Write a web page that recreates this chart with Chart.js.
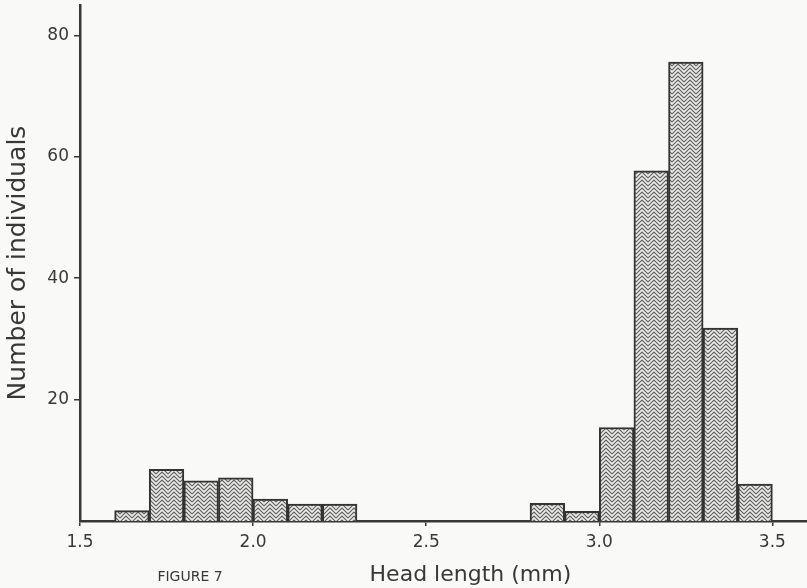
<!DOCTYPE html>
<html>
<head>
<meta charset="utf-8">
<script src="https://cdn.jsdelivr.net/npm/chart.js@4.4.1/dist/chart.umd.min.js"></script>
<style>
  html, body { margin: 0; padding: 0; background: #f9f9f7; }
  #wrap { width: 807px; height: 588px; position: relative; }
</style>
</head>
<body>
<div id="wrap"><canvas id="c" width="807" height="588"></canvas></div>
<script>
// ---- data ----
const binStarts = [1.6, 1.7, 1.8, 1.9, 2.0, 2.1, 2.2, 2.8, 2.9, 3.0, 3.1, 3.2, 3.3, 3.4];
const binWidth = 0.1;
const counts = [1.7, 8.5, 6.6, 7.1, 3.6, 2.8, 2.8, 2.9, 1.6, 15.4, 57.7, 75.6, 31.8, 6.1];
const xTickValues = [1.5, 2.0, 2.5, 3.0, 3.5];
const yTickValues = [20, 40, 60, 80];
const xTitle = 'Head length (mm)';
const yTitle = 'Number of individuals';
const figureLabel = 'FIGURE 7';

const INK = '#383838';
const FONT = "'DejaVu Sans', sans-serif";

function makeChevronPattern() {
  const c = document.createElement('canvas');
  const w = 12, h = 4;
  c.width = w; c.height = h;
  const g = c.getContext('2d');
  g.fillStyle = '#ececea';
  g.fillRect(0, 0, w, h);
  g.strokeStyle = '#5e5e5e';
  g.lineWidth = 1.1;
  for (let k = -4; k <= 4; k++) {
    g.beginPath();
    g.moveTo(0, 6 + k * h);
    g.lineTo(w / 2, 0 + k * h);
    g.lineTo(w, 6 + k * h);
    g.stroke();
  }
  return g.createPattern(c, 'repeat');
}

const points = binStarts.map((s, i) => ({ x: s + binWidth / 2, y: counts[i] }));

const bgPlugin = {
  id: 'bg',
  beforeDraw(chart) {
    const ctx = chart.ctx;
    ctx.save();
    ctx.fillStyle = '#f9f9f7';
    ctx.fillRect(0, 0, chart.width, chart.height);
    ctx.restore();
  }
};

const textPlugin = {
  id: 'texts',
  afterDraw(chart) {
    const ctx = chart.ctx;
    const area = chart.chartArea;
    ctx.save();
    ctx.fillStyle = INK;
    ctx.textBaseline = 'middle';
    ctx.textAlign = 'center';
    ctx.font = '22px ' + FONT;
    ctx.fillText(xTitle, area.left + (area.right - area.left) * 0.537, 575);
    ctx.font = '14px ' + FONT;
    ctx.fillText(figureLabel, 190, 577);
    ctx.restore();
  }
};

new Chart(document.getElementById('c'), {
  type: 'bar',
  data: {
    datasets: [{
      data: points,
      backgroundColor: makeChevronPattern(),
      borderColor: '#333333',
      borderWidth: 2,
      barPercentage: 1,
      categoryPercentage: 1
    }]
  },
  options: {
    responsive: false,
    animation: false,
    devicePixelRatio: 1,
    layout: { padding: { top: 5, right: 0, left: 0, bottom: 0 } },
    plugins: { legend: { display: false }, tooltip: { enabled: false } },
    scales: {
      x: {
        type: 'linear',
        min: 1.5,
        max: 3.6,
        offset: false,
        afterBuildTicks: (s) => { s.ticks = xTickValues.map(v => ({ value: v })); },
        afterFit: (s) => { s.height = 67; },
        grid: { display: true, offset: false, drawOnChartArea: false, drawTicks: true, tickLength: 5, color: INK, lineWidth: 1.5 },
        border: { display: true, color: INK, width: 2.5 },
        ticks: {
          color: INK,
          font: { family: FONT, size: 17 },
          padding: 6,
          maxRotation: 0,
          callback: (v) => Number(v).toFixed(1)
        },
        title: { display: false }
      },
      y: {
        min: 0,
        max: 85,
        afterBuildTicks: (s) => { s.ticks = yTickValues.map(v => ({ value: v })); },
        afterFit: (s) => { s.width = 80; s.paddingTop = 0; },
        grid: { display: true, drawOnChartArea: false, drawTicks: true, tickLength: 6, color: INK, lineWidth: 1.5 },
        border: { display: true, color: INK, width: 2.5 },
        ticks: {
          color: INK,
          font: { family: FONT, size: 17 },
          padding: 5
        },
        title: {
          display: true,
          text: yTitle,
          color: INK,
          font: { family: FONT, size: 25 },
          padding: { top: 3, bottom: 0 }
        }
      }
    }
  },
  plugins: [bgPlugin, textPlugin]
});
</script>
</body>
</html>
